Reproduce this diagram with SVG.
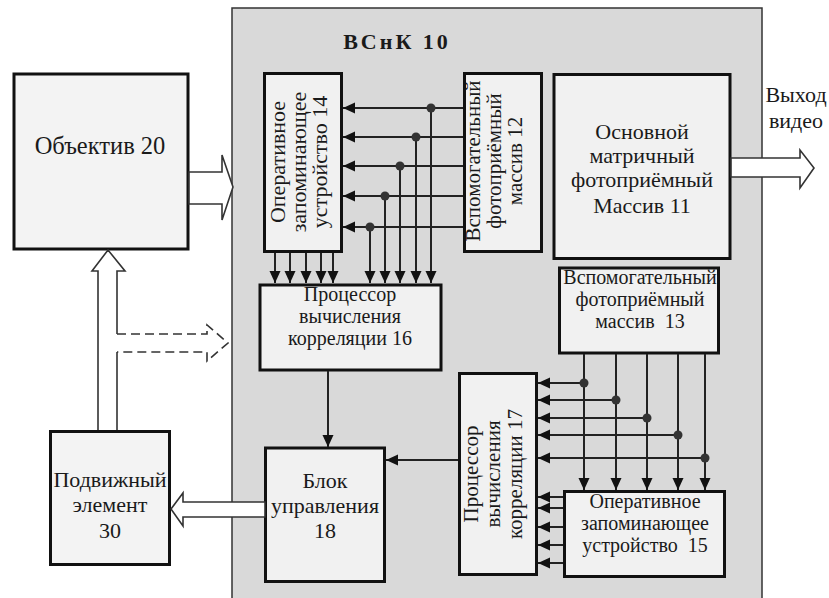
<svg xmlns="http://www.w3.org/2000/svg" width="829" height="598" viewBox="0 0 829 598">
<style>
.box{fill:#f1f1f1;stroke:#111;stroke-width:3}
.ext{fill:#f3f3f3}
.t{font-family:"Liberation Serif","Times New Roman",serif;font-size:22px;fill:#1a1a1a;text-anchor:middle}
.s20{font-size:20px}
.s21{font-size:21px}
.pre{white-space:pre}
.c{stroke:#222;stroke-width:2;fill:none}
.a{marker-end:url(#ah)}
.dot{fill:#333}
.hollow{fill:#fff;stroke:#333;stroke-width:1.6;stroke-linejoin:miter}
.edge{fill:none;stroke:#333;stroke-width:1.6}
.dash{fill:none;stroke:#333;stroke-width:1.6;stroke-dasharray:9 5}
</style>
<defs>
<marker id="ah" markerUnits="userSpaceOnUse" viewBox="0 0 12 12" markerWidth="12" markerHeight="12" refX="12" refY="6" orient="auto">
<path d="M0,0.5 L12,6 L0,11.5 z" fill="#111"/>
</marker>
</defs>
<rect width="829" height="598" fill="#fff"/>

<g id="vsnk10">
<rect x="232" y="8" width="530" height="600" fill="#d9d9d9" stroke="#333" stroke-width="1.5"/>
<text x="397" y="49" class="t" style="font-weight:bold;letter-spacing:3px">ВСнК 10</text>
</g>

<g id="objective20">
<rect class="box ext" x="14" y="74" width="174" height="175"/>
<text class="t" x="100" y="154" style="font-size:24.5px">Объектив 20</text>
</g>

<g id="mobile30">
<rect class="box ext" x="50.5" y="431.5" width="119" height="133"/>
<text class="t" x="110" y="487">Подвижный</text>
<text class="t" x="110" y="512">элемент</text>
<text class="t" x="110" y="538">30</text>
</g>

<g id="ram14">
<rect class="box" x="264.5" y="73.5" width="77" height="178"/>
<g transform="translate(285,162) rotate(-90)">
<text class="t" x="0" y="0">Оперативное</text>
<text class="t" x="0" y="21">запоминающее</text>
<text class="t" x="0" y="42">устройство 14</text>
</g>
</g>

<g id="aux12">
<rect class="box" x="464.5" y="73.5" width="77" height="178"/>
<g transform="translate(480,161) rotate(-90)">
<text class="t s21" x="0" y="0">Вспомогательный</text>
<text class="t s21" x="0" y="21">фотоприёмный</text>
<text class="t s21" x="0" y="42">массив 12</text>
</g>
</g>

<g id="main11">
<rect class="box" x="554" y="74.5" width="176" height="184"/>
<text class="t" x="642" y="139">Основной</text>
<text class="t" x="642" y="163">матричный</text>
<text class="t" x="642" y="187">фотоприёмный</text>
<text class="t" x="642" y="213">Массив 11</text>
</g>

<g id="aux13">
<rect class="box" x="559.5" y="268" width="159" height="85"/>
<text class="t s20" x="640" y="284">Вспомогательный</text>
<text class="t s20" x="640" y="306">фотоприёмный</text>
<text class="t s20 pre" x="640" y="328">массив  13</text>
</g>

<g id="proc16">
<rect class="box" x="260" y="285" width="181" height="85"/>
<text class="t s20" x="350" y="301">Процессор</text>
<text class="t s20" x="350" y="323">вычисления</text>
<text class="t s20" x="350" y="345">корреляции 16</text>
</g>

<g id="proc17">
<rect class="box" x="459.5" y="373.5" width="77" height="201"/>
<g transform="translate(478,474) rotate(-90)">
<text class="t s21" x="0" y="0">Процессор</text>
<text class="t s21" x="0" y="22">вычисления</text>
<text class="t s21" x="0" y="44">корреляции 17</text>
</g>
</g>

<g id="ram15">
<rect class="box" x="564.5" y="491.5" width="160" height="85"/>
<text class="t s20" x="645" y="508">Оперативное</text>
<text class="t s20" x="645" y="530">запоминающее</text>
<text class="t s20 pre" x="645" y="552">устройство  15</text>
</g>

<g id="ctrl18">
<rect class="box" x="265.5" y="448" width="119" height="133.5"/>
<text class="t" x="325" y="488">Блок</text>
<text class="t" x="325" y="513">управления</text>
<text class="t" x="325" y="538">18</text>
</g>

<g id="connectors">
<path class="c a" d="M463,108 H343"/>
<path class="c a" d="M463,137 H343"/>
<path class="c a" d="M463,166 H343"/>
<path class="c a" d="M463,196 H343"/>
<path class="c a" d="M463,227 H343"/>
<path class="c a" d="M431,108 V283"/>
<path class="c a" d="M416,137 V283"/>
<path class="c a" d="M400,166 V283"/>
<path class="c a" d="M385,196 V283"/>
<path class="c a" d="M370,227 V283"/>
<circle class="dot" cx="431" cy="108" r="4.5"/>
<circle class="dot" cx="416" cy="137" r="4.5"/>
<circle class="dot" cx="400" cy="166" r="4.5"/>
<circle class="dot" cx="385" cy="196" r="4.5"/>
<circle class="dot" cx="370" cy="227" r="4.5"/>
<path class="c a" d="M275,253 V283"/>
<path class="c a" d="M290,253 V283"/>
<path class="c a" d="M306,253 V283"/>
<path class="c a" d="M321,253 V283"/>
<path class="c a" d="M333,253 V283"/>
<path class="c a" d="M584,354 V490"/>
<path class="c a" d="M616,354 V490"/>
<path class="c a" d="M647,354 V490"/>
<path class="c a" d="M678,354 V490"/>
<path class="c a" d="M705,354 V490"/>
<path class="c a" d="M584,383 H538"/>
<path class="c a" d="M616,400 H538"/>
<path class="c a" d="M647,418 H538"/>
<path class="c a" d="M678,435 H538"/>
<path class="c a" d="M705,458 H538"/>
<circle class="dot" cx="584" cy="383" r="4.5"/>
<circle class="dot" cx="616" cy="400" r="4.5"/>
<circle class="dot" cx="647" cy="418" r="4.5"/>
<circle class="dot" cx="678" cy="435" r="4.5"/>
<circle class="dot" cx="705" cy="458" r="4.5"/>
<path class="c a" d="M563,497 H538"/>
<path class="c a" d="M563,508 H538"/>
<path class="c a" d="M563,527 H538"/>
<path class="c a" d="M563,545 H538"/>
<path class="c a" d="M563,563 H538"/>
<path class="c a" d="M328,371 V447"/>
<path class="c a" d="M458,460 H386"/>
<polygon class="hollow" points="189,172 222,172 222,155 233,187 222,220 222,204 189,204"/>
<polygon class="hollow" points="731,158 800,158 800,150 814,168 800,188 800,177 731,177"/>
<polygon class="hollow" points="265,502 183,502 183,493 171,509 183,526 183,517 265,517"/>
<polygon points="98,430 98,271 92,271 108,250 125,271 117,271 117,430" fill="#fff"/>
<path class="edge" d="M98,430 V271 H92 L108,250 L125,271 H117 V334 M117,352 V430"/>
<path class="dash" d="M117,334 H207 V325 L228,343 L207,361 V352 H117"/>
</g>

<g id="video-out-label">
<text class="t" x="796" y="102">Выход</text>
<text class="t" x="796" y="128">видео</text>
</g>
</svg>
